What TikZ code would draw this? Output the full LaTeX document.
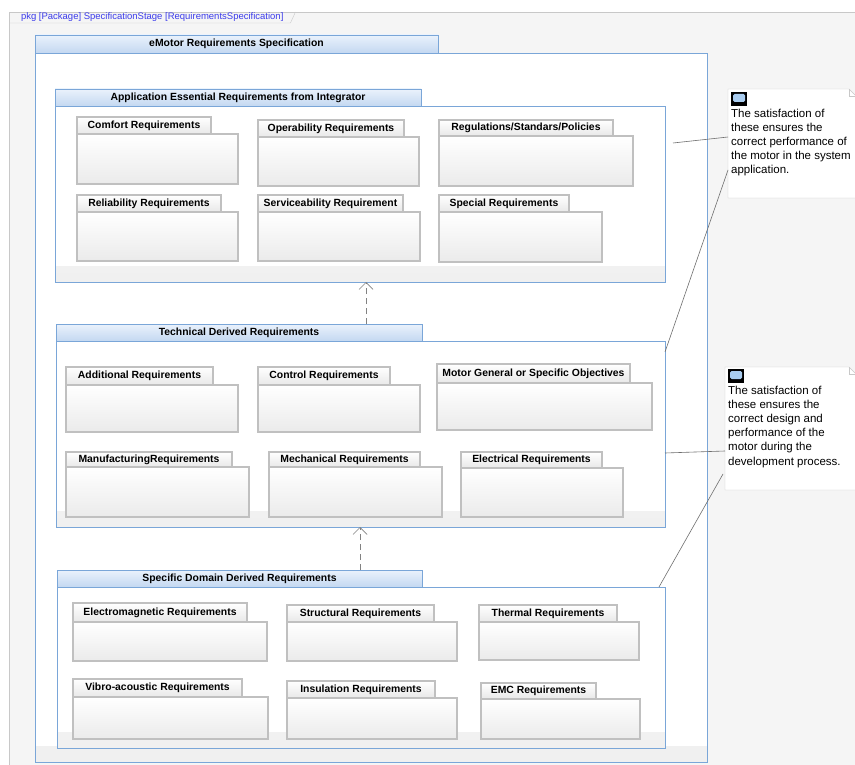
\documentclass[tikz,border=0pt]{standalone}
\usepackage{fontspec}
\setmainfont{Liberation Sans}
\usepackage{tikz}
\usetikzlibrary{positioning,arrows.meta}
\definecolor{framegray}{RGB}{200,200,200}
\definecolor{framefill}{RGB}{245,245,245}
\definecolor{pkgtext}{RGB}{60,60,235}
\definecolor{pkgblue}{RGB}{122,166,216}
\definecolor{tabtop}{RGB}{234,242,252}
\definecolor{tabbottom}{RGB}{196,216,241}
\definecolor{boxgray}{RGB}{192,192,192}
\definecolor{depgray}{RGB}{130,130,130}
\definecolor{linegray}{RGB}{110,110,110}
\definecolor{iconblue}{RGB}{170,205,240}

\begin{document}
\begin{tikzpicture}[
    x=1pt, y=-1pt,
    frame/.style={draw=framegray, fill=framefill, anchor=north west, inner sep=0pt, outer sep=0pt, minimum width=870pt, minimum height=780pt},
    frametab/.style={anchor=north west, inner xsep=12pt, inner ysep=0pt, outer sep=0pt, minimum height=11pt, text=pkgtext, font=\fontsize{9.5}{11}\selectfont},
    pkgtab/.style={draw=pkgblue, top color=tabtop, bottom color=tabbottom, anchor=north west, inner sep=0pt, outer sep=0pt, minimum height=17pt, font=\bfseries\fontsize{10.4}{12}\selectfont},
    pkgbody/.style={draw=pkgblue, fill=white, inner sep=0pt, outer sep=0pt,
        path picture={\shade[top color=white, bottom color=black!6] ([yshift=16pt]path picture bounding box.south west) rectangle (path picture bounding box.south east);}},
    reqtab/.style={draw=boxgray, line width=2pt, top color=white, bottom color=black!9, anchor=north west, inner sep=0pt, outer sep=0pt, minimum height=17pt, font=\bfseries\fontsize{10.4}{12}\selectfont},
    reqbody/.style={draw=boxgray, line width=2pt, top color=white, middle color=white, bottom color=black!8, inner sep=0pt, outer sep=0pt},
    dependency/.style={draw=depgray, line width=0.7pt, dash pattern=on 6pt off 4pt, -{Straight Barb[length=7pt, width=14pt]}},
    note/.style={anchor=north west, inner sep=0pt, outer sep=0pt},
    noteline/.style={draw=framegray, fill=white},
    noteicon/.style={fill=black, anchor=north west, inner sep=0pt, outer sep=0pt, minimum width=16pt, minimum height=14pt,
        path picture={\fill[iconblue, rounded corners=1.5pt] ([xshift=2pt, yshift=-2pt]path picture bounding box.north west) rectangle ([xshift=-2pt, yshift=4pt]path picture bounding box.south east);}},
    notetext/.style={anchor=north west, inner sep=0pt, align=left, font=\fontsize{11.5}{14.2}\selectfont},
    anchorline/.style={draw=linegray, line width=0.6pt}
]
    \useasboundingbox (0,0) rectangle (855,765);

    % diagram frame
    \node[frame] (diagram) at (9,12) {};
    \node[frametab] (diagram-tab) at (9,12) {pkg [Package] SpecificationStage [RequirementsSpecification]};
    \draw[framegray] (diagram-tab.north east) -- ([xshift=-5pt]diagram-tab.south east) -- (diagram-tab.south west);

    % eMotor package
    \node[pkgtab, minimum width=403pt, minimum height=18pt] (emotor-tab) at (35,35) {eMotor Requirements Specification};
    \node[pkgbody, below right=0pt of emotor-tab.south west, minimum width=672pt, minimum height=709pt] (emotor) {};

    % application essential requirements
    \node[pkgtab, minimum width=366pt] (app-tab) at (55,89) {Application Essential Requirements from Integrator};
    \node[pkgbody, below right=0pt of app-tab.south west, minimum width=610pt, minimum height=176pt] (app) {};

    \node[reqtab, minimum width=134pt] (comfort-tab) at (77,117) {Comfort Requirements};
    \node[reqbody, below right=0pt of comfort-tab.south west, minimum width=161pt, minimum height=50pt] (comfort) {};
    \node[reqtab, minimum width=146pt] (operability-tab) at (258,120) {Operability Requirements};
    \node[reqbody, below right=0pt of operability-tab.south west, minimum width=161pt, minimum height=49pt] (operability) {};
    \node[reqtab, minimum width=174pt, minimum height=16pt] (regulations-tab) at (439,120) {Regulations/Standars/Policies};
    \node[reqbody, below right=0pt of regulations-tab.south west, minimum width=194pt, minimum height=50pt] (regulations) {};
    \node[reqtab, minimum width=144pt] (reliability-tab) at (77,195) {Reliability Requirements};
    \node[reqbody, below right=0pt of reliability-tab.south west, minimum width=161pt, minimum height=49pt] (reliability) {};
    \node[reqtab, minimum width=145pt] (serviceability-tab) at (258,195) {Serviceability Requirement};
    \node[reqbody, below right=0pt of serviceability-tab.south west, minimum width=162pt, minimum height=49pt] (serviceability) {};
    \node[reqtab, minimum width=130pt] (special-tab) at (439,195) {Special Requirements};
    \node[reqbody, below right=0pt of special-tab.south west, minimum width=163pt, minimum height=50pt] (special) {};

    % technical derived requirements
    \node[pkgtab, minimum width=366pt] (technical-tab) at (56,324) {Technical Derived Requirements};
    \node[pkgbody, below right=0pt of technical-tab.south west, minimum width=609pt, minimum height=186pt] (technical) {};

    \node[reqtab, minimum width=147pt, minimum height=18pt] (additional-tab) at (66,367) {Additional Requirements};
    \node[reqbody, below right=0pt of additional-tab.south west, minimum width=172pt, minimum height=47pt] (additional) {};
    \node[reqtab, minimum width=132pt, minimum height=18pt] (control-tab) at (258,367) {Control Requirements};
    \node[reqbody, below right=0pt of control-tab.south west, minimum width=162pt, minimum height=47pt] (control) {};
    \node[reqtab, minimum width=193pt, minimum height=19pt] (objectives-tab) at (437,364) {Motor General or Specific Objectives};
    \node[reqbody, below right=0pt of objectives-tab.south west, minimum width=215pt, minimum height=47pt] (objectives) {};
    \node[reqtab, minimum width=166pt, minimum height=15pt] (manufacturing-tab) at (66,452) {ManufacturingRequirements};
    \node[reqbody, below right=0pt of manufacturing-tab.south west, minimum width=183pt, minimum height=50pt] (manufacturing) {};
    \node[reqtab, minimum width=151pt, minimum height=15pt] (mechanical-tab) at (269,452) {Mechanical Requirements};
    \node[reqbody, below right=0pt of mechanical-tab.south west, minimum width=173pt, minimum height=50pt] (mechanical) {};
    \node[reqtab, minimum width=141pt, minimum height=16pt] (electrical-tab) at (461,452) {Electrical Requirements};
    \node[reqbody, below right=0pt of electrical-tab.south west, minimum width=162pt, minimum height=49pt] (electrical) {};

    % specific domain derived requirements
    \node[pkgtab, minimum width=365pt] (specific-tab) at (57,570) {Specific Domain Derived Requirements};
    \node[pkgbody, below right=0pt of specific-tab.south west, minimum width=608pt, minimum height=161pt] (specific) {};

    \node[reqtab, minimum width=174pt, minimum height=19pt] (electromagnetic-tab) at (73,603) {Electromagnetic Requirements};
    \node[reqbody, below right=0pt of electromagnetic-tab.south west, minimum width=194pt, minimum height=39pt] (electromagnetic) {};
    \node[reqtab, minimum width=147pt] (structural-tab) at (287,605) {Structural Requirements};
    \node[reqbody, below right=0pt of structural-tab.south west, minimum width=170pt, minimum height=39pt] (structural) {};
    \node[reqtab, minimum width=138pt] (thermal-tab) at (479,605) {Thermal Requirements};
    \node[reqbody, below right=0pt of thermal-tab.south west, minimum width=160pt, minimum height=38pt] (thermal) {};
    \node[reqtab, minimum width=169pt, minimum height=18pt] (vibro-tab) at (73,679) {Vibro-acoustic Requirements};
    \node[reqbody, below right=0pt of vibro-tab.south west, minimum width=195pt, minimum height=42pt] (vibro) {};
    \node[reqtab, minimum width=148pt] (insulation-tab) at (287,681) {Insulation Requirements};
    \node[reqbody, below right=0pt of insulation-tab.south west, minimum width=170pt, minimum height=41pt] (insulation) {};
    \node[reqtab, minimum width=115pt, minimum height=16pt] (emc-tab) at (481,683) {EMC Requirements};
    \node[reqbody, below right=0pt of emc-tab.south west, minimum width=159pt, minimum height=40pt] (emc) {};

    % derivation links
    \draw[dependency] ([xshift=127pt]technical-tab.north) -- ([xshift=127pt]technical-tab.north |- app.south);
    \draw[dependency] ([xshift=120.5pt]specific-tab.north) -- ([xshift=120.5pt]specific-tab.north |- technical.south);

    % comments
    \node[note, minimum width=128pt, minimum height=109pt] (note1) at (728,89) {};
    \draw[noteline] (note1.south west) -- (note1.north west) -- ([xshift=-7pt]note1.north east) -- ([yshift=-7pt]note1.north east) -- (note1.south east) -- cycle;
    \draw[framegray] ([xshift=-7pt]note1.north east) -- ([xshift=-7pt, yshift=-7pt]note1.north east) -- ([yshift=-7pt]note1.north east);
    \node[noteicon] (icon1) at ([xshift=3pt, yshift=-3pt]note1.north west) {};
    \node[notetext] (text1) at ([yshift=-2.5pt]icon1.south west) {The satisfaction of\\these ensures the\\correct performance of\\the motor in the system\\application.};

    \node[note, minimum width=131pt, minimum height=123pt] (note2) at (725,367) {};
    \draw[noteline] (note2.south west) -- (note2.north west) -- ([xshift=-7pt]note2.north east) -- ([yshift=-7pt]note2.north east) -- (note2.south east) -- cycle;
    \draw[framegray] ([xshift=-7pt]note2.north east) -- ([xshift=-7pt, yshift=-7pt]note2.north east) -- ([yshift=-7pt]note2.north east);
    \node[noteicon] (icon2) at ([xshift=3pt, yshift=-2pt]note2.north west) {};
    \node[notetext] (text2) at ([yshift=-2.5pt]icon2.south west) {The satisfaction of\\these ensures the\\correct design and\\performance of the\\motor during the\\development process.};

    \draw[anchorline] ([xshift=8pt, yshift=-37pt]app.north east) -- ([yshift=6.5pt]note1.west);
    \draw[anchorline] ([yshift=-26.5pt]note1.west) -- ([yshift=-11pt]technical.north east);
    \draw[anchorline] ([yshift=-19pt]technical.east) -- ([yshift=-22.5pt]note2.west);
    \draw[anchorline] ([xshift=-2pt, yshift=-45.5pt]note2.west) -- ([xshift=-6pt]specific.north east);
\end{tikzpicture}
\end{document}
